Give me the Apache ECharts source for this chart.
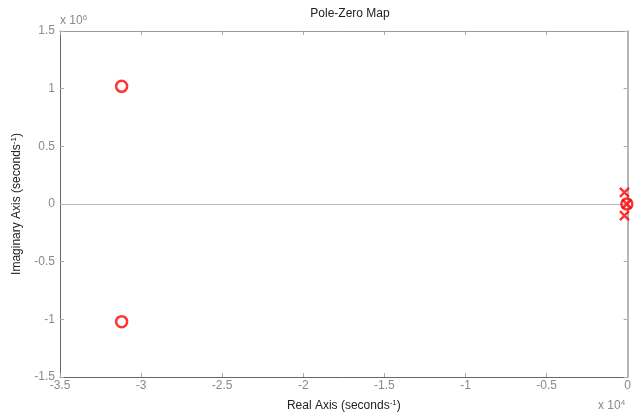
<!DOCTYPE html>
<html><head><meta charset="utf-8">
<script src="https://cdn.jsdelivr.net/npm/echarts@6/dist/echarts.min.js"></script>
<style>html,body{margin:0;padding:0;background:#fff}#c{width:634px;height:417px}</style>
</head><body><div id="c"></div>
<script>
var xTicks = [-35000, -30000, -25000, -20000, -15000, -10000, -5000, 0];
var yTicks = [-1500000, -1000000, -500000, 0, 500000, 1000000, 1500000];
var zerosRe = [-31200, -31200, -50];
var zerosIm = [1020000, -1020000, 0];
var polesRe = [-200, -200, -50];
var polesIm = [100000, -100000, 0];

var zeroData = zerosRe.map(function (r, i) { return [r, zerosIm[i]]; });
var poleData = polesRe.map(function (r, i) { return [r, polesIm[i]]; });

var FONT = 'Liberation Sans, Arial, sans-serif';
var tickGray = '#8a8a8a';
var chart = echarts.init(document.getElementById('c'));
var supRich = {
  n: { fontSize: 12, fontFamily: FONT, color: '#222' },
  s: { fontSize: 8, fontFamily: FONT, color: '#222', verticalAlign: 'top', padding: [0, 0, 6, 0] }
};
chart.setOption({
  animation: false,
  title: {
    text: 'Pole-Zero Map', left: 345, top: 3, textAlign: 'center',
    textStyle: { fontSize: 12, fontWeight: 'normal', fontFamily: FONT, color: '#222' }
  },
  grid: { left: 60, right: 2, top: 31, bottom: 37 },
  xAxis: [{
    type: 'value', min: -35000, max: 0, interval: 5000,
    name: '{n|Real Axis (seconds}{s|-1}{n|)}', nameLocation: 'middle', nameGap: 22,
    nameTextStyle: { rich: supRich },
    axisLine: { show: true, onZero: false, lineStyle: { color: '#666', width: 1 } },
    axisTick: { show: true, inside: true, length: 4, lineStyle: { color: '#aaa' } },
    axisLabel: { fontSize: 12, fontFamily: FONT, color: tickGray, margin: 3,
      formatter: function (v) { return String(Math.round(v / 1000) / 10); } },
    splitLine: { show: false }
  }, {
    type: 'value', position: 'top', min: -35000, max: 0, interval: 5000,
    axisLine: { show: true, onZero: false, lineStyle: { color: '#999', width: 1 } },
    axisTick: { show: true, inside: true, length: 4, lineStyle: { color: '#aaa' } },
    axisLabel: { show: false }, splitLine: { show: false }
  }],
  yAxis: [{
    type: 'value', min: -1500000, max: 1500000, interval: 500000,
    name: '{n|Imaginary Axis (seconds}{s|-1}{n|)}', nameLocation: 'middle', nameGap: 36, nameRotate: 90,
    nameTextStyle: { rich: supRich },
    axisLine: { show: true, onZero: false, lineStyle: { color: '#666', width: 1 } },
    axisTick: { show: true, inside: true, length: 4, lineStyle: { color: '#aaa' } },
    axisLabel: { fontSize: 12, fontFamily: FONT, color: tickGray, margin: 5,
      formatter: function (v) { return String(Math.round(v / 100000) / 10); } },
    splitLine: { show: false }
  }, {
    type: 'value', position: 'right', min: -1500000, max: 1500000, interval: 500000,
    axisLine: { show: true, onZero: false, lineStyle: { color: '#999', width: 1.5 } },
    axisTick: { show: true, inside: true, length: 4, lineStyle: { color: '#aaa' } },
    axisLabel: { show: false }, splitLine: { show: false }
  }],
  graphic: [
    { type: 'text', left: 60, top: 14, style: { rich: {
        n: { fontSize: 12, fontFamily: FONT, fill: tickGray },
        s: { fontSize: 8, fontFamily: FONT, fill: tickGray, verticalAlign: 'top', padding: [0, 0, 6, 0] } },
        text: '{n|x 10}{s|6}' } },
    { type: 'text', left: 598, top: 399, style: { rich: {
        n: { fontSize: 12, fontFamily: FONT, fill: tickGray },
        s: { fontSize: 8, fontFamily: FONT, fill: tickGray, verticalAlign: 'top', padding: [0, 0, 6, 0] } },
        text: '{n|x 10}{s|4}' } }
  ],
  series: [{
    type: 'scatter', data: zeroData, symbol: 'circle', symbolSize: 11,
    itemStyle: { color: 'rgba(0,0,0,0)', borderColor: '#ff0000', borderWidth: 2.5 },
    z: 5,
    markLine: {
      silent: true, symbol: 'none', label: { show: false },
      lineStyle: { color: '#b8b8b8', width: 1, type: 'solid' },
      data: [{ yAxis: 0 }, { xAxis: 0 }]
    }
  }, {
    type: 'scatter', data: poleData, symbol: 'path://M0,0L10,10M10,0L0,10', symbolSize: 9,
    itemStyle: { color: 'rgba(0,0,0,0)', borderColor: '#ff0000', borderWidth: 2.5 },
    z: 5
  }]
});
</script></body></html>
